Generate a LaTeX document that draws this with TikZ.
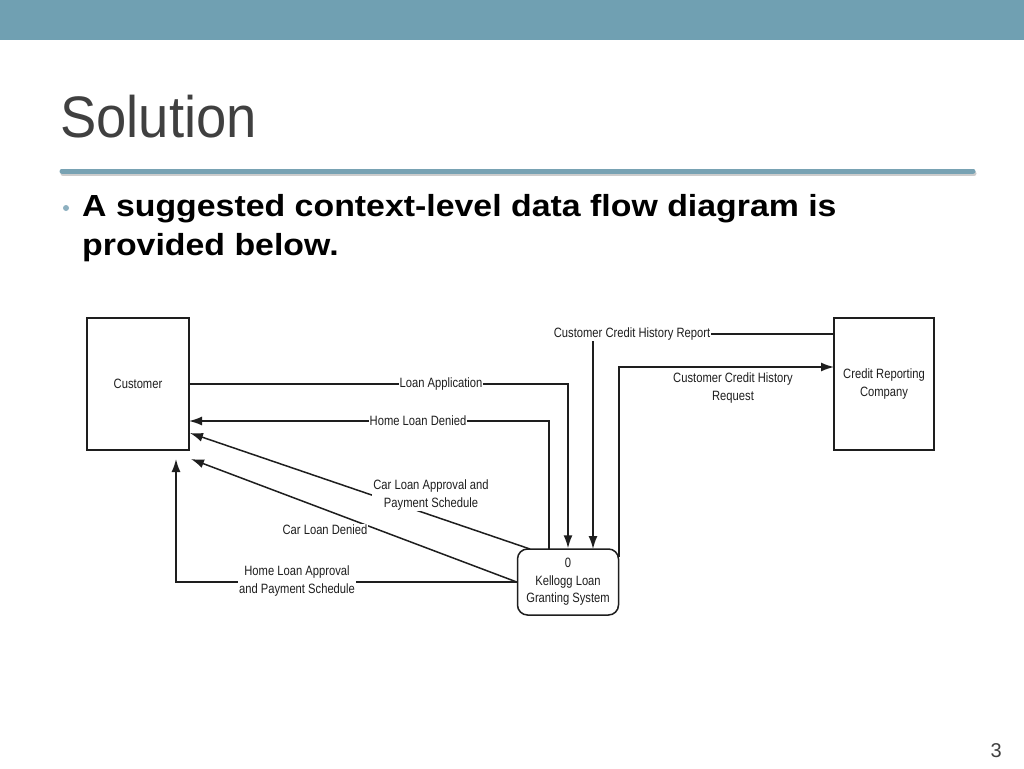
\documentclass[tikz,border=0pt]{standalone}
\usepackage{fontspec}
\setmainfont{Liberation Sans}
\newfontfamily\titlefont[FakeStretch=0.93]{Liberation Sans}
\newfontfamily\bodyfont[FakeStretch=1.11]{Liberation Sans}
\newfontfamily\dfdfont[FakeStretch=0.83]{Liberation Sans}
\usetikzlibrary{arrows.meta,positioning}

\begin{document}
\begin{tikzpicture}[
    x=1pt, y=-1pt,
    dfdtext/.style={font=\dfdfont\fontsize{13.5}{17.5}\selectfont, text=ink},
    entity/.style={dfdtext, draw=ink, line width=1.5pt, minimum width=102pt,
        minimum height=132pt, inner sep=0pt, align=center},
    process/.style={dfdtext, draw=ink, line width=1.5pt, rounded corners=10pt,
        minimum width=101pt, minimum height=66pt, inner sep=0pt, align=center},
    flow/.style={draw=ink, line width=1.5pt, -{Latex[length=13pt,width=9pt]}},
    flowlabel/.style={dfdtext, fill=white, inner sep=1pt, align=center}
]
    \definecolor{barc}{HTML}{70A0B2}
    \definecolor{rulec}{HTML}{78A2B3}
    \definecolor{dotc}{HTML}{8DB0C0}
    \definecolor{titlec}{HTML}{404040}
    \definecolor{ink}{HTML}{1E1E1E}

    \useasboundingbox (0,0) rectangle (1024,768);
    \fill[white] (0,0) rectangle (1024,768);
    \fill[barc] (0,0) rectangle (1024,40);
    \draw[black!20, line width=5pt, line cap=round] (63,173.5) -- (974,173.5);
    \draw[rulec, line width=5pt, line cap=round] (62,171) -- (973,171);

    \node[anchor=base west, inner sep=0pt, text=titlec,
        font=\titlefont\fontsize{58.5}{60}\selectfont] (title) at (60,137) {Solution};
    \fill[dotc] (66,208) circle (3);
    \node[anchor=base west, inner sep=0pt, align=left,
        font=\bodyfont\bfseries\fontsize{30.5}{39}\selectfont] (intro) at (82,255)
        {A suggested context-level data flow diagram is\\provided below.};

    \node[entity] (cust) at (138,384) {Customer};
    \node[entity, minimum width=100pt] (crc) at (884,384) {Credit Reporting\\Company};
    \node[process] (kls) at (568,582) {0\\Kellogg Loan\\Granting System};

    \coordinate (kls-hd) at (549,549);
    \coordinate (cust-hd) at (189,421);
    \coordinate (crc-rp) at (834,334);
    \coordinate (kls-rp) at (593,549);
    \coordinate (kls-rq) at (619,557);
    \coordinate (crc-rq) at (834,367);
    \coordinate (kls-ca) at (530,549);
    \coordinate (cust-ca) at (190,433);
    \coordinate (cust-cd) at (191,459);
    \coordinate (cust-ha) at (176,459);

    \draw[flow] (cust.east) -| (kls.north);
    \draw[flow] (kls-hd) |- (cust-hd);
    \draw[flow] (crc-rp) -| (kls-rp);
    \draw[flow] (kls-rq) |- (crc-rq);
    \draw[flow] (kls-ca) -- (cust-ca);
    \draw[flow] (kls.west) -- (cust-cd);
    \draw[flow] (kls.west) -| (cust-ha);

    \node[flowlabel] (lbl-la) at (441,384) {Loan Application};
    \node[flowlabel] (lbl-hd) at (418,421) {Home Loan Denied};
    \node[flowlabel] (lbl-rp) at (632,334) {Customer Credit History Report};
    \node[flowlabel] (lbl-rq) at (733,388) {Customer Credit History\\Request};
    \node[flowlabel] (lbl-ca) at (431,495) {Car Loan Approval and\\Payment Schedule};
    \node[flowlabel] (lbl-cd) at (325,530) {Car Loan Denied};
    \node[flowlabel] (lbl-ha) at (297,581) {Home Loan Approval\\and Payment Schedule};

    \node[anchor=base east, inner sep=0pt, text=titlec,
        font=\fontsize{20}{22}\selectfont] (pageno) at (1002,757) {3};
\end{tikzpicture}
\end{document}
